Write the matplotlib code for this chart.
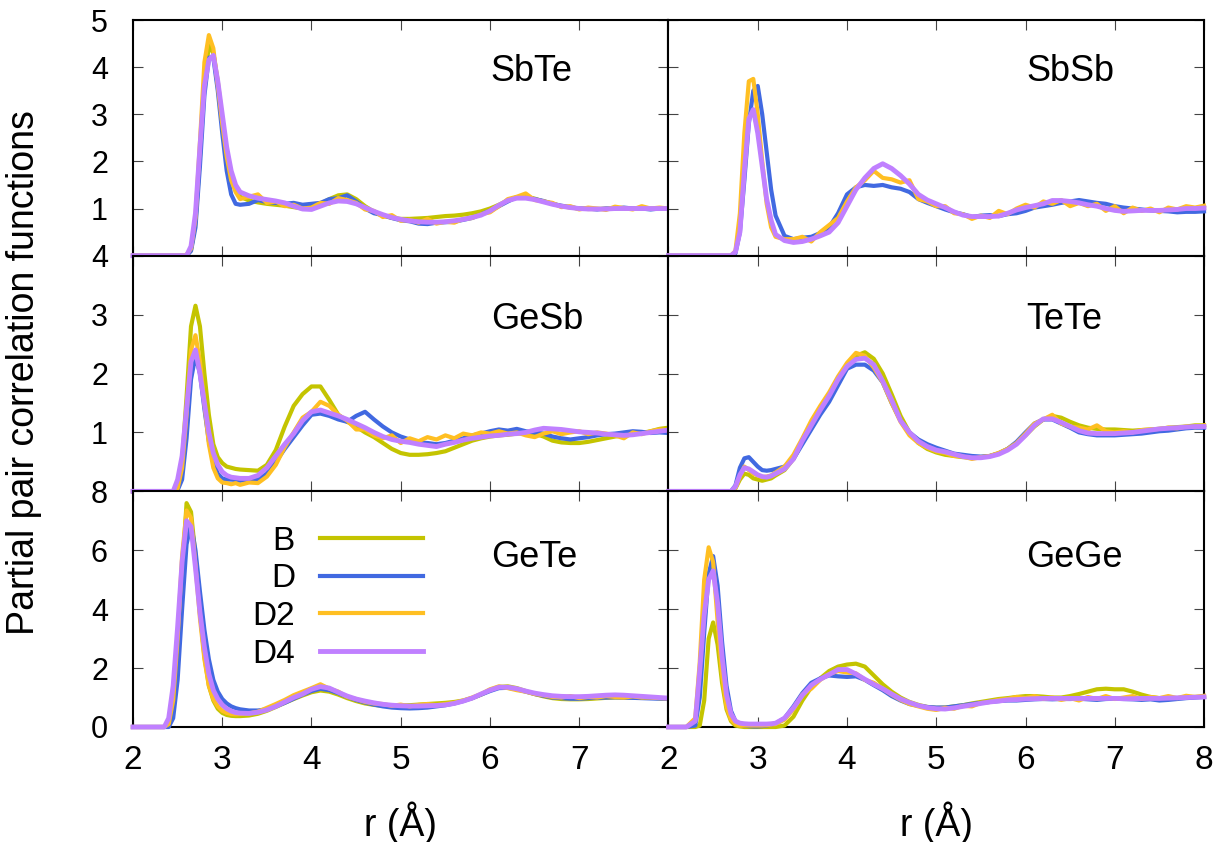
import matplotlib
matplotlib.use("Agg")
import matplotlib.pyplot as plt

plt.rcParams['font.family'] = ['Liberation Sans', 'DejaVu Sans']

# ---------------- data ----------------
r = [2.0, 2.2, 2.3, 2.35, 2.4, 2.45, 2.5,
     2.55, 2.6, 2.65, 2.7, 2.75, 2.8, 2.85,
     2.9, 2.95, 3.0, 3.05, 3.1, 3.15, 3.2,
     3.3, 3.4, 3.5, 3.6, 3.7, 3.8, 3.9, 4.0, 4.1, 4.2,
     4.3, 4.4, 4.5, 4.6, 4.7, 4.8, 4.9, 5.0, 5.1, 5.2,
     5.3, 5.4, 5.5, 5.6, 5.7, 5.8, 5.9, 6.0, 6.1, 6.2,
     6.3, 6.4, 6.5, 6.6, 6.7, 6.8, 6.9, 7.0, 7.1, 7.2,
     7.3, 7.4, 7.5, 7.6, 7.7, 7.8, 7.9, 8.0]

series_names = ["B", "D", "D2", "D4"]
panel_names = ["SbTe", "SbSb", "GeSb", "TeTe", "GeTe", "GeGe"]

# SbTe
sbte_B = [0, 0, 0, 0, 0, 0, 0,
          0, 0, 0.12, 0.7, 2.1, 3.7, 4.45,
          4.3, 3.7, 2.9, 2.2, 1.7, 1.4, 1.25,
          1.17, 1.13, 1.1, 1.08, 1.06, 1.03, 1.0, 1.02, 1.1, 1.2,
          1.28, 1.3, 1.2, 1.05, 0.93, 0.85, 0.8, 0.78, 0.78, 0.79,
          0.8, 0.82, 0.84, 0.85, 0.87, 0.9, 0.94, 1.0, 1.08, 1.17,
          1.24, 1.25, 1.21, 1.15, 1.1, 1.05, 1.02, 1.0, 0.99, 0.99,
          1.0, 1.0, 1.0, 1.0, 1.0, 1.0, 1.0, 1.0]
sbte_D = [0, 0, 0, 0, 0, 0, 0,
          0, 0, 0.1, 0.6, 1.9, 3.4, 4.2,
          4.2, 3.5, 2.6, 1.8, 1.3, 1.1, 1.08,
          1.1, 1.18, 1.14, 1.12, 1.1, 1.12, 1.08, 1.1, 1.12, 1.2,
          1.22, 1.28, 1.15, 1.0, 0.9, 0.86, 0.8, 0.75, 0.73, 0.68,
          0.67, 0.7, 0.71, 0.72, 0.76, 0.8, 0.88, 0.95, 1.05, 1.15,
          1.24, 1.25, 1.2, 1.16, 1.1, 1.06, 1.03, 1.0, 1.0, 0.98,
          1.0, 1.0, 1.02, 1.0, 1.0, 0.98, 1.0, 1.0]
sbte_D2 = [0, 0, 0, 0, 0, 0, 0,
           0, 0.02, 0.15, 0.8, 2.4, 4.1, 4.68,
           4.4, 3.6, 2.8, 2.1, 1.6, 1.35, 1.2,
           1.25, 1.3, 1.12, 1.15, 1.05, 1.08, 1.0, 1.02, 1.12, 1.1,
           1.22, 1.18, 1.12, 0.98, 0.95, 0.82, 0.86, 0.74, 0.76, 0.7,
           0.78, 0.68, 0.72, 0.7, 0.78, 0.8, 0.88, 0.92, 1.05, 1.2,
           1.25, 1.32, 1.18, 1.15, 1.12, 1.03, 1.05, 0.98, 1.02, 1.0,
           0.97, 1.04, 1.01, 0.98, 1.05, 1.0, 1.02, 1.0]
sbte_D4 = [0, 0, 0, 0, 0, 0, 0,
           0, 0, 0.2, 0.9, 2.3, 3.6, 4.15,
           4.25, 3.7, 3.0, 2.3, 1.8, 1.5, 1.35,
           1.27, 1.22, 1.19, 1.16, 1.12, 1.05, 0.99, 0.98, 1.05, 1.12,
           1.16, 1.15, 1.10, 1.02, 0.94, 0.87, 0.81, 0.77, 0.74, 0.72,
           0.71, 0.71, 0.72, 0.74, 0.77, 0.81, 0.86, 0.95, 1.07, 1.17,
           1.22, 1.22, 1.19, 1.14, 1.09, 1.05, 1.02, 1.0, 0.99, 0.99,
           0.99, 1.0, 1.0, 1.0, 1.0, 1.0, 1.0, 1.0]

# SbSb (no B curve visible)
sbsb_B = None
sbsb_D = [0, 0, 0, 0, 0, 0, 0,
          0, 0, 0, 0, 0.05, 0.5, 1.6,
          2.8, 3.5, 3.6, 3.0, 2.2, 1.4, 0.85,
          0.42, 0.35, 0.38, 0.4, 0.48, 0.6, 0.9, 1.3, 1.45, 1.5,
          1.48, 1.5, 1.45, 1.42, 1.35, 1.2, 1.12, 1.05, 0.98, 0.92,
          0.88, 0.82, 0.85, 0.86, 0.84, 0.88, 0.9, 0.95, 1.02, 1.05,
          1.08, 1.12, 1.15, 1.18, 1.15, 1.12, 1.1, 1.05, 1.02, 1.0,
          0.98, 0.96, 0.95, 0.94, 0.92, 0.93, 0.93, 0.94]
sbsb_D2 = [0, 0, 0, 0, 0, 0, 0,
           0, 0, 0, 0, 0.1, 0.9, 2.6,
           3.7, 3.75, 3.0, 2.0, 1.1, 0.6, 0.4,
           0.35, 0.35, 0.4, 0.3, 0.5, 0.65, 0.8, 1.15, 1.45, 1.6,
           1.8, 1.65, 1.62, 1.55, 1.6, 1.2, 1.15, 1.05, 1.05, 0.9,
           0.88, 0.78, 0.85, 0.8, 0.95, 0.88, 1.0, 1.08, 1.02, 1.15,
           1.1, 1.18, 1.05, 1.12, 1.05, 1.1, 0.95, 1.05, 0.9, 1.02,
           0.95, 1.0, 0.92, 1.02, 0.98, 1.05, 1.02, 1.06]
sbsb_D4 = [0, 0, 0, 0, 0, 0, 0,
           0, 0, 0, 0, 0.08, 0.5, 1.8,
           2.9, 3.1, 2.6, 1.9, 1.2, 0.75, 0.45,
           0.32, 0.28, 0.3, 0.35, 0.42, 0.5, 0.7, 1.05, 1.4, 1.65,
           1.85, 1.95, 1.85, 1.7, 1.52, 1.3, 1.18, 1.1, 1.02, 0.93,
           0.86, 0.83, 0.83, 0.83, 0.84, 0.9, 0.97, 1.02, 1.06, 1.1,
           1.17, 1.17, 1.15, 1.12, 1.08, 1.05, 1.0, 0.96, 0.94, 0.95,
           0.96, 0.96, 0.96, 0.97, 0.98, 1.0, 1.0, 1.01]

# GeSb
gesb_B = [0, 0, 0, 0, 0, 0, 0.1,
          0.5, 1.6, 2.8, 3.15, 2.8, 2.0, 1.3,
          0.8, 0.58, 0.48, 0.42, 0.4, 0.38, 0.37,
          0.36, 0.35, 0.45, 0.7, 1.1, 1.45, 1.65, 1.78, 1.78, 1.55,
          1.3, 1.18, 1.1, 1.0, 0.92, 0.82, 0.72, 0.65, 0.62, 0.62,
          0.63, 0.65, 0.68, 0.74, 0.8, 0.86, 0.9, 0.93, 0.95, 0.96,
          0.98, 0.99, 0.98, 0.93, 0.86, 0.83, 0.82, 0.82, 0.84, 0.87,
          0.9, 0.93, 0.95, 0.97, 0.99, 1.02, 1.06, 1.08]
gesb_D = [0, 0, 0, 0, 0, 0, 0.02,
          0.2, 0.9, 1.9, 2.3, 2.0, 1.4, 0.85,
          0.5, 0.3, 0.22, 0.2, 0.2, 0.19, 0.18,
          0.2, 0.2, 0.3, 0.5, 0.72, 0.92, 1.12, 1.3, 1.32, 1.28,
          1.22, 1.18, 1.28, 1.35, 1.22, 1.1, 1.0, 0.93, 0.88, 0.83,
          0.82, 0.8, 0.82, 0.86, 0.9, 0.95, 0.98, 1.02, 1.05, 1.03,
          1.06, 1.02, 1.0, 0.98, 0.93, 0.9, 0.88, 0.9, 0.92, 0.95,
          0.97, 0.98, 1.0, 1.02, 1.01, 0.99, 1.0, 0.99]
gesb_D2 = [0, 0, 0, 0, 0, 0, 0.05,
           0.4, 1.3, 2.4, 2.65, 2.2, 1.5, 0.8,
           0.4, 0.22, 0.15, 0.14, 0.12, 0.14, 0.11,
           0.15, 0.14, 0.25, 0.45, 0.75, 1.0, 1.25, 1.35, 1.52, 1.45,
           1.3, 1.2, 1.05, 1.05, 0.95, 0.9, 0.95, 0.82, 0.9, 0.85,
           0.92, 0.88, 0.95, 0.9, 0.98, 0.95, 1.0, 0.98, 1.02, 0.98,
           1.0, 0.95, 0.92, 0.98, 1.02, 0.97, 1.0, 1.02, 0.97, 1.0,
           0.98, 0.95, 0.9, 1.0, 0.97, 1.02, 1.05, 1.04]
gesb_D4 = [0, 0, 0, 0, 0, 0, 0.2,
           0.6, 1.4, 2.2, 2.4, 2.0, 1.5, 1.0,
           0.65, 0.45, 0.33, 0.27, 0.24, 0.23, 0.22,
           0.22, 0.27, 0.4, 0.6, 0.8, 0.98, 1.2, 1.35, 1.38, 1.33,
           1.28, 1.22, 1.15, 1.08, 1.0, 0.93, 0.88, 0.85, 0.83, 0.8,
           0.78, 0.76, 0.8, 0.83, 0.87, 0.9, 0.92, 0.94, 0.95, 0.97,
           0.98, 1.0, 1.04, 1.07, 1.06, 1.05, 1.03, 1.01, 1.0, 0.99,
           0.97, 0.96, 0.95, 0.96, 0.98, 1.0, 1.02, 1.04]

# TeTe
tete_B = [0, 0, 0, 0, 0, 0, 0,
          0, 0, 0, 0, 0.05, 0.2, 0.3,
          0.28, 0.22, 0.2, 0.18, 0.2, 0.22, 0.27,
          0.36, 0.55, 0.84, 1.12, 1.38, 1.62, 1.9, 2.14, 2.3, 2.36,
          2.25, 2.0, 1.65, 1.28, 1.0, 0.82, 0.72, 0.66, 0.62, 0.6,
          0.58, 0.57, 0.58, 0.6, 0.65, 0.72, 0.82, 0.95, 1.1, 1.22,
          1.28, 1.25, 1.18, 1.12, 1.08, 1.06, 1.05, 1.05, 1.04, 1.03,
          1.04, 1.05, 1.06, 1.08, 1.09, 1.1, 1.12, 1.12]
tete_D = [0, 0, 0, 0, 0, 0, 0,
          0, 0, 0, 0, 0.1, 0.4, 0.56,
          0.58, 0.5, 0.42, 0.36, 0.35, 0.36, 0.38,
          0.42, 0.55, 0.8, 1.05, 1.3, 1.52, 1.8, 2.08, 2.15, 2.15,
          2.05, 1.85, 1.5, 1.2, 1.0, 0.88, 0.8, 0.74, 0.69, 0.64,
          0.62, 0.6, 0.59, 0.6, 0.64, 0.72, 0.84, 1.0, 1.15, 1.22,
          1.22, 1.15, 1.08, 1.0, 0.97, 0.95, 0.95, 0.95, 0.96, 0.97,
          0.98, 1.0, 1.02, 1.03, 1.05, 1.07, 1.08, 1.08]
tete_D2 = [0, 0, 0, 0, 0, 0, 0,
           0, 0, 0, 0, 0.06, 0.25, 0.42,
           0.36, 0.3, 0.27, 0.24, 0.25, 0.27, 0.32,
           0.42, 0.62, 0.9, 1.2, 1.45, 1.68, 1.95, 2.18, 2.35, 2.3,
           2.1, 1.85, 1.5, 1.18, 0.95, 0.82, 0.74, 0.68, 0.65, 0.6,
           0.59, 0.55, 0.58, 0.6, 0.65, 0.72, 0.82, 0.98, 1.15, 1.22,
           1.3, 1.15, 1.1, 1.08, 1.05, 1.12, 1.02, 1.0, 1.02, 1.0,
           1.04, 1.05, 1.06, 1.08, 1.07, 1.1, 1.09, 1.12]
tete_D4 = [0, 0, 0, 0, 0, 0, 0,
           0, 0, 0, 0, 0.08, 0.28, 0.4,
           0.38, 0.33, 0.28, 0.25, 0.24, 0.26, 0.3,
           0.38, 0.55, 0.86, 1.12, 1.38, 1.62, 1.9, 2.12, 2.24, 2.26,
           2.15, 1.87, 1.55, 1.2, 1.0, 0.85, 0.76, 0.7, 0.67, 0.63,
           0.59, 0.57, 0.57, 0.59, 0.63, 0.7, 0.8, 0.95, 1.12, 1.23,
           1.23, 1.17, 1.1, 1.03, 0.99, 0.98, 0.98, 0.98, 0.99, 1.0,
           1.02, 1.04, 1.06, 1.07, 1.08, 1.09, 1.1, 1.1]

# GeTe
gete_B = [0, 0, 0, 0, 0.05, 0.6, 2.5,
          5.2, 7.6, 7.3, 5.8, 3.9, 2.4, 1.4,
          0.9, 0.62, 0.48, 0.41, 0.38, 0.37, 0.37,
          0.39, 0.45, 0.55, 0.68, 0.82, 0.95, 1.07, 1.18, 1.24, 1.2,
          1.1, 0.98, 0.88, 0.8, 0.75, 0.72, 0.72, 0.73, 0.74, 0.76,
          0.78, 0.8, 0.82, 0.85, 0.9, 0.98, 1.1, 1.25, 1.36, 1.38,
          1.32, 1.22, 1.12, 1.04, 0.98, 0.95, 0.94, 0.94, 0.95, 0.97,
          0.99, 1.0, 1.0, 1.0, 1.0, 0.99, 0.98, 0.97]
gete_D = [0, 0, 0, 0, 0, 0.3, 1.6,
          4.0, 6.2, 6.9, 6.0, 4.6, 3.3, 2.3,
          1.6, 1.2, 0.95, 0.8, 0.7, 0.64, 0.6,
          0.56, 0.56, 0.6, 0.7, 0.82, 0.96, 1.1, 1.22, 1.3, 1.25,
          1.15, 1.02, 0.92, 0.83, 0.76, 0.7, 0.66, 0.64, 0.63, 0.64,
          0.66, 0.7, 0.74, 0.8, 0.88, 0.98, 1.1, 1.22, 1.32, 1.33,
          1.28, 1.2, 1.12, 1.06, 1.0, 0.98, 0.96, 0.96, 0.98, 0.99,
          1.0, 1.01, 1.0, 0.99, 0.98, 0.97, 0.96, 0.95]
gete_D2 = [0, 0, 0, 0, 0.1, 0.9, 3.0,
           5.8, 7.35, 7.1, 5.5, 3.7, 2.3, 1.4,
           0.95, 0.7, 0.55, 0.48, 0.44, 0.43, 0.44,
           0.46, 0.52, 0.65, 0.78, 0.92, 1.08, 1.2, 1.32, 1.45, 1.3,
           1.2, 1.02, 0.95, 0.85, 0.8, 0.78, 0.72, 0.76, 0.7, 0.75,
           0.78, 0.74, 0.78, 0.82, 0.9, 1.0, 1.12, 1.28, 1.38, 1.32,
           1.25, 1.2, 1.12, 1.08, 1.02, 1.0, 1.05, 0.98, 1.02, 1.0,
           1.05, 1.02, 1.0, 1.04, 1.0, 1.0, 0.98, 0.97]
gete_D4 = [0, 0, 0, 0, 0.3, 1.4, 3.4,
           5.6, 7.0, 6.8, 5.4, 3.9, 2.7, 1.8,
           1.25, 0.95, 0.75, 0.62, 0.54, 0.49, 0.47,
           0.46, 0.5, 0.58, 0.7, 0.85, 1.0, 1.12, 1.28, 1.37, 1.32,
           1.18, 1.05, 0.95, 0.88, 0.82, 0.77, 0.74, 0.72, 0.71, 0.71,
           0.72, 0.73, 0.75, 0.8, 0.88, 0.98, 1.12, 1.25, 1.35, 1.35,
           1.3, 1.22, 1.15, 1.1, 1.06, 1.04, 1.03, 1.03, 1.04, 1.06,
           1.08, 1.09, 1.08, 1.06, 1.04, 1.02, 1.0, 0.98]

# GeGe
gege_B = [0, 0, 0, 0.05, 0.9, 3.0, 3.55,
          2.8, 1.5, 0.6, 0.2, 0.05, 0.02, 0,
          0, 0, 0, 0, 0, 0, 0,
          0.05, 0.35, 0.9, 1.35, 1.65, 1.9, 2.05, 2.12, 2.15, 2.05,
          1.75, 1.45, 1.2, 1.0, 0.85, 0.75, 0.68, 0.65, 0.66, 0.7,
          0.74, 0.8, 0.85, 0.9, 0.95, 0.98, 1.02, 1.05, 1.05, 1.03,
          1.0, 1.0, 1.05, 1.12, 1.2, 1.28, 1.3, 1.28, 1.28, 1.2,
          1.1, 1.02, 0.98, 0.97, 0.98, 1.0, 1.02, 1.03]
gege_D = [0, 0, 0.05, 1.0, 3.2, 5.2, 5.8,
          4.8, 2.9, 1.4, 0.55, 0.2, 0.08, 0.05,
          0.03, 0.02, 0.02, 0.03, 0.05, 0.08, 0.12,
          0.3, 0.7, 1.15, 1.5, 1.65, 1.75, 1.72, 1.7, 1.72, 1.6,
          1.42, 1.25, 1.05, 0.9, 0.78, 0.72, 0.68, 0.66, 0.66, 0.7,
          0.74, 0.78, 0.82, 0.85, 0.88, 0.9, 0.9, 0.92, 0.94, 0.95,
          0.94, 0.95, 0.95, 0.96, 0.94, 0.92, 0.95, 0.96, 0.95, 0.94,
          0.92, 0.94, 0.9, 0.92, 0.95, 0.98, 1.0, 1.02]
gege_D2 = [0, 0, 0.3, 2.2, 5.0, 6.1, 5.6,
           3.6, 1.8, 0.7, 0.25, 0.1, 0.05, 0.05,
           0.05, 0.05, 0.05, 0.05, 0.06, 0.08, 0.1,
           0.25, 0.6, 1.1, 1.3, 1.6, 1.8, 1.9, 1.85, 1.82, 1.6,
           1.5, 1.3, 1.1, 0.92, 0.78, 0.7, 0.62, 0.58, 0.65, 0.62,
           0.72, 0.7, 0.82, 0.85, 0.92, 0.95, 1.02, 0.98, 1.05, 0.95,
           1.0, 0.92, 0.98, 0.9, 1.02, 0.95, 1.05, 0.95, 1.0, 1.05,
           0.95, 1.02, 0.98, 1.05, 0.98, 1.06, 1.02, 1.06]
gege_D4 = [0, 0, 0.2, 1.9, 3.8, 5.0, 5.3,
           4.2, 2.4, 1.1, 0.45, 0.2, 0.13, 0.11,
           0.1, 0.1, 0.1, 0.1, 0.1, 0.11, 0.13,
           0.3, 0.65, 1.08, 1.42, 1.62, 1.78, 1.95, 1.95, 1.8, 1.62,
           1.45, 1.3, 1.12, 0.95, 0.83, 0.73, 0.66, 0.62, 0.61, 0.65,
           0.7, 0.75, 0.8, 0.85, 0.88, 0.92, 0.93, 0.95, 0.96, 0.97,
           0.97, 0.97, 0.97, 0.97, 0.97, 0.97, 0.97, 0.97, 0.96, 0.96,
           0.97, 0.97, 0.97, 0.98, 0.99, 1.0, 1.01, 1.02]

panel_data = {
    "SbTe": [sbte_B, sbte_D, sbte_D2, sbte_D4],
    "SbSb": [sbsb_B, sbsb_D, sbsb_D2, sbsb_D4],
    "GeSb": [gesb_B, gesb_D, gesb_D2, gesb_D4],
    "TeTe": [tete_B, tete_D, tete_D2, tete_D4],
    "GeTe": [gete_B, gete_D, gete_D2, gete_D4],
    "GeGe": [gege_B, gege_D, gege_D2, gege_D4],
}
for k, v in panel_data.items():
    for s in v:
        if s is not None:
            assert len(s) == len(r), (k, len(s))

row_ylim = [5, 4, 8]
row_yticks = [[0, 1, 2, 3, 4, 5], [0, 1, 2, 3, 4], [0, 2, 4, 6, 8]]
row_yticklabels = [["", "1", "2", "3", "4", "5"], ["", "1", "2", "3", "4"],
                   ["0", "2", "4", "6", "8"]]
xticks = [2, 3, 4, 5, 6, 7, 8]
xticklabels_left = ["2", "3", "4", "5", "6", "7", ""]
xticklabels_right = ["2", "3", "4", "5", "6", "7", "8"]
label_y = [0.78, 0.73, 0.72]

colors = ["#c4c400", "#4169e1", "#ffbf22", "#c080ff"]
widths = [3.0, 3.0, 3.0, 3.5]

# ---------------- figure ----------------
fig = plt.figure(figsize=(12.19, 8.42), dpi=100)
gs = fig.add_gridspec(3, 2, left=133 / 1219, right=1204 / 1219,
                      top=1 - 20 / 842, bottom=1 - 727 / 842,
                      hspace=0, wspace=0)

axes = []
for i, name in enumerate(panel_names):
    row, col = divmod(i, 2)
    ax = fig.add_subplot(gs[row, col])
    axes.append(ax)
    for s_name, s, c, lw in zip(series_names, panel_data[name], colors, widths):
        if s is None:
            continue
        ax.plot(r, s, color=c, lw=lw, label=s_name, zorder=3, clip_on=False,
                solid_joinstyle='round')
    ax.set_xlim(2, 8)
    ax.set_ylim(0, row_ylim[row])
    ax.set_xticks(xticks)
    ax.set_yticks(row_yticks[row])
    if col == 0:
        ax.set_yticklabels(row_yticklabels[row])
    else:
        ax.set_yticklabels([])
    if row == 2:
        ax.set_xticklabels(xticklabels_left if col == 0 else xticklabels_right)
    else:
        ax.set_xticklabels([])
    ax.tick_params(direction='in', length=7, width=0.8, color='#444444',
                   top=True, right=True)
    ax.tick_params(axis='y', pad=18, labelsize=22)
    ax.tick_params(axis='x', pad=13, labelsize=24)
    for sp in ax.spines.values():
        sp.set_linewidth(1.5)
    ax.text(0.668, label_y[row], name, transform=ax.transAxes, fontsize=26,
            ha='left', va='center')
    if row == 2:
        ax.set_xlabel("r (Å)", fontsize=27)
        ax.xaxis.set_label_coords(0.5, -0.407)
        ax.xaxis.label.set_verticalalignment('center')

fig.text(24 / 1219, 1 - 373 / 842, "Partial pair correlation functions",
         rotation=90, ha='center', va='center', fontsize=27)

ax_leg = axes[4]
ax_leg.legend(loc='upper right', bbox_to_anchor=(0.542, 0.855),
              markerfirst=False, frameon=False, fontsize=24,
              handlelength=3.1, handletextpad=0.75, labelspacing=0.2,
              borderpad=0, borderaxespad=0)

fig.savefig("out.png", dpi=100)
